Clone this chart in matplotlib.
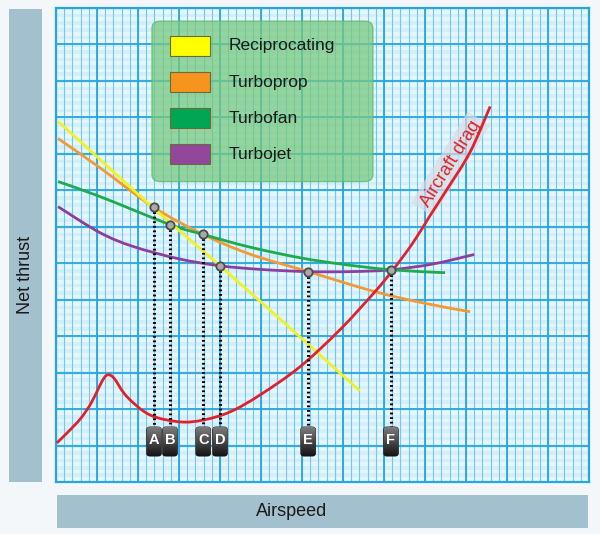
import numpy as np
import matplotlib
matplotlib.use('Agg')
import matplotlib.pyplot as plt
from matplotlib.patches import FancyBboxPatch, Rectangle, PathPatch
from matplotlib.path import Path

plt.rcParams['font.family'] = ['Liberation Sans', 'DejaVu Sans']

# curves (airspeed / thrust in grid units)
recip_x = [0.05, 1.07, 2.39, 4.0, 5.95, 7.41]
recip_y = [9.89, 8.85, 7.50, 5.93, 3.98, 2.50]

tprop_x = [0.05, 1.07, 2.39, 3.59, 4.73, 6.15, 7.78, 9.0, 10.1]
tprop_y = [9.42, 8.62, 7.53, 6.79, 6.25, 5.77, 5.22, 4.90, 4.67]

tfan_x = [0.05, 1.07, 2.78, 3.59, 4.7, 5.95, 7.0, 8.17, 9.49]
tfan_y = [8.24, 7.83, 7.06, 6.79, 6.45, 6.15, 5.97, 5.82, 5.74]

tjet_x = [0.05, 1.07, 1.88, 3.0, 4.0, 5.0, 6.15, 7.2, 8.17, 9.2, 10.2]
tjet_y = [7.55, 6.84, 6.46, 6.12, 5.93, 5.83, 5.77, 5.77, 5.82, 5.98, 6.24]

drag_x = [0.02, 0.3, 0.6, 0.85, 1.05, 1.17, 1.27, 1.42, 1.73, 2.29, 3.02, 3.59, 4.24,
          4.98, 5.95, 6.93, 7.78, 8.22, 8.7, 9.12, 9.55, 10.1, 10.59]
drag_y = [1.07, 1.38, 1.74, 2.15, 2.60, 2.85, 2.94, 2.84, 2.34, 1.84, 1.65, 1.70, 1.92,
          2.39, 3.16, 4.18, 5.22, 5.82, 6.55, 7.30, 8.05, 9.05, 10.30]

# crossover points
pt_names = ['A', 'B', 'C', 'D', 'E', 'F']
pt_x = [2.39, 2.78, 3.59, 4.0, 6.15, 8.17]
pt_y = [7.53, 7.06, 6.79, 5.93, 5.77, 5.82]

engines = ['Reciprocating', 'Turboprop', 'Turbofan', 'Turbojet']
line_colors = ['#f4f21c', '#f39a32', '#1dac4c', '#8c3f9e']
swatch_colors = ['#ffff00', '#f7941d', '#00a651', '#92479b']
drag_color = '#e0222c'


def smooth_path(xs, ys):
    # cubic bezier through the read points (catmull-rom handles)
    p = np.column_stack([xs, ys])
    verts = [p[0]]
    codes = [Path.MOVETO]
    for i in range(len(p)-1):
        p0 = p[i-1] if i > 0 else p[i]
        p1, p2 = p[i], p[i+1]
        p3 = p[i+2] if i+2 < len(p) else p[i+1]
        verts += [p1 + (p2-p0)/6, p2 - (p3-p1)/6, p2]
        codes += [Path.CURVE4]*3
    return Path(verts, codes)


def curve(ax, xs, ys, color, z):
    ax.add_patch(PathPatch(smooth_path(xs, ys), facecolor='none', edgecolor=color,
                           lw=2, zorder=z, capstyle='butt'))


fig = plt.figure(figsize=(6.0, 5.34), dpi=100)
fig.patch.set_facecolor('#f3f7fa')
ax = fig.add_axes([56/600, 1-482/534, 533/600, 474/534])
ax.set_facecolor('#d3effc')

# graph paper grid
for yy in np.arange(0, 13, 0.2):
    ax.axhspan(yy+0.04, yy+0.14, color='#e6f6fe', lw=0, zorder=0.1)
for xx in np.arange(0, 13.01, 0.2):
    ax.axvline(xx, color='#72c8ef', lw=0.8, zorder=0.2)
for xx in range(0, 14):
    ax.axvline(xx, color='#26a6df', lw=1.3, zorder=0.3)
for yy in range(0, 14):
    ax.axhline(yy, color='#26a6df', lw=1.3, zorder=0.3)
ax.set_xticks([])
ax.set_yticks([])
for s in ax.spines.values():
    s.set_color('#26a6df')
    s.set_linewidth(1.6)

# legend panel
ax.add_patch(FancyBboxPatch((2.34, 8.24), 5.39, 4.40, boxstyle='round,pad=0,rounding_size=0.2',
                            facecolor='#78c97f', edgecolor='#5cba68', alpha=0.75, lw=1, zorder=2))
sw_y = [11.68, 10.69, 9.70, 8.71]
for name, c, y0 in zip(engines, swatch_colors, sw_y):
    ax.add_patch(Rectangle((2.78, y0), 0.98, 0.55, facecolor=c, edgecolor='#6b6b3a', lw=0.8, zorder=3))
    ax.text(4.2, y0+0.28, name, fontsize=12.5, color='#1a1a1a', va='center', ha='left', zorder=3)

# thrust curves
curve(ax, tprop_x, tprop_y, line_colors[1], 4)
curve(ax, tjet_x, tjet_y, line_colors[3], 4)
curve(ax, tfan_x, tfan_y, line_colors[2], 4)
curve(ax, recip_x, recip_y, line_colors[0], 4)
curve(ax, drag_x, drag_y, drag_color, 5)

# drag label
ax.text(9.62, 8.72, 'Aircraft drag', rotation=58, fontsize=13, color=drag_color,
        ha='center', va='center', rotation_mode='anchor', zorder=4,
        bbox=dict(boxstyle='square,pad=0.25', facecolor='#d9dce4', edgecolor='none', alpha=0.7))

# dotted drop lines + letter tags
box_top, box_bot = 1.51, 0.71
for n, px, py in zip(pt_names, pt_x, pt_y):
    ax.plot([px, px], [py, box_top], color='black', lw=2.2, ls=(0, (0.6, 0.9)), zorder=6)
    ax.plot(px, py, 'o', ms=6, mfc='#a9a9a9', mec='#4d4d4d', mew=1.3, zorder=7)
    w = 0.36
    tag = FancyBboxPatch((px-w/2, box_bot), w, box_top-box_bot,
                         boxstyle='round,pad=0,rounding_size=0.08',
                         facecolor='black', edgecolor='#333333', lw=0.6, zorder=7)
    ax.add_patch(tag)
    grad = np.linspace(0, 1, 50).reshape(-1, 1)
    im = ax.imshow(grad, extent=(px-w/2, px+w/2, box_bot, box_top), cmap='gray',
                   vmin=-0.2, vmax=2.2, origin='lower', aspect='auto', zorder=7.5)
    im.set_clip_path(tag)
    ax.text(px, (box_top+box_bot)/2 + 0.03, n, color='white', fontsize=10.5, fontweight='bold',
            ha='center', va='center', zorder=8)
ax.set_xlim(0, 13)
ax.set_ylim(0, 13)

# axis title bars
fig.patches.append(Rectangle((9/600, 1-482/534), 33/600, 473/534, transform=fig.transFigure,
                             facecolor='#a3c0cf', edgecolor='none'))
fig.text(25.5/600, 1-275/534, 'Net thrust', rotation=90, fontsize=13, color='#1a1a1a',
         ha='center', va='center')
fig.patches.append(Rectangle((57/600, 1-528/534), 531/600, 33/534, transform=fig.transFigure,
                             facecolor='#a3c0cf', edgecolor='none'))
fig.text(292/600, 1-511/534, 'Airspeed', fontsize=13, color='#1a1a1a', ha='center', va='center')

fig.savefig('out.png', dpi=100, facecolor=fig.get_facecolor())
